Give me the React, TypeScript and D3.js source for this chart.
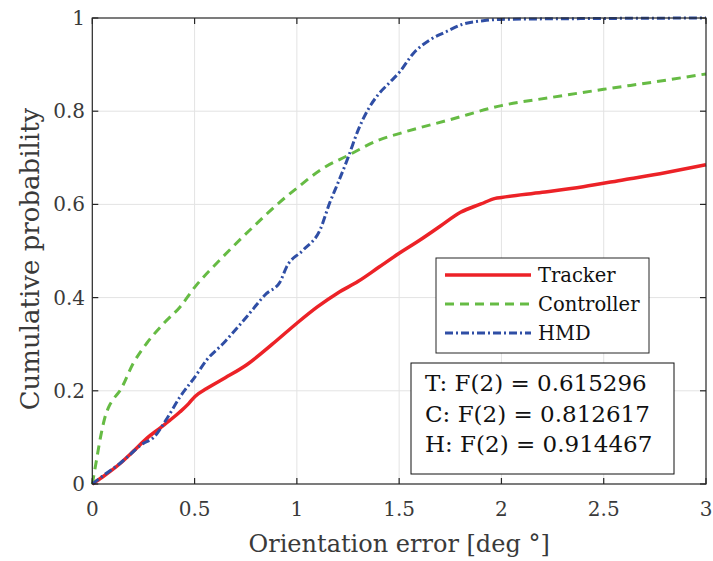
import React, { useRef, useEffect } from 'react';
import * as d3 from 'd3';

// CDF samples: [error deg, probability]
const trackerData: [number, number][] = [
  [0, 0], [0.05, 0.015], [0.136, 0.044], [0.2, 0.07], [0.266, 0.098], [0.331, 0.12],
  [0.38, 0.137], [0.429, 0.155], [0.47, 0.172], [0.502, 0.188], [0.559, 0.205],
  [0.65, 0.228], [0.755, 0.256], [0.88, 0.3], [1.0, 0.345], [1.1, 0.38],
  [1.2, 0.41], [1.3, 0.435], [1.4, 0.465], [1.5, 0.495], [1.6, 0.523],
  [1.7, 0.553], [1.8, 0.583], [1.9, 0.601], [1.97, 0.613], [2.0, 0.615],
  [2.2, 0.626], [2.4, 0.638], [2.6, 0.653], [2.8, 0.668], [3.0, 0.685],
];

const controllerData: [number, number][] = [
  [0, 0], [0.02, 0.05], [0.04, 0.1], [0.06, 0.14], [0.08, 0.165], [0.103, 0.182],
  [0.135, 0.2], [0.2, 0.259], [0.266, 0.302], [0.35, 0.345], [0.429, 0.38],
  [0.502, 0.423], [0.624, 0.481], [0.787, 0.552], [0.917, 0.605], [1.0, 0.635],
  [1.129, 0.678], [1.25, 0.705], [1.4, 0.738], [1.5, 0.752], [1.75, 0.782],
  [2.0, 0.812], [2.25, 0.83], [2.5, 0.847], [2.75, 0.863], [3.0, 0.88],
];

const hmdData: [number, number][] = [
  [0, 0], [0.05, 0.017], [0.135, 0.044], [0.249, 0.087], [0.3, 0.1], [0.364, 0.14],
  [0.429, 0.187], [0.502, 0.23], [0.559, 0.266], [0.641, 0.302], [0.755, 0.359],
  [0.852, 0.409], [0.917, 0.433], [0.95, 0.466], [1.031, 0.502], [1.113, 0.545],
  [1.162, 0.605], [1.2, 0.645], [1.25, 0.7], [1.3, 0.76], [1.35, 0.805],
  [1.4, 0.837], [1.45, 0.86], [1.504, 0.885], [1.569, 0.924], [1.65, 0.953],
  [1.732, 0.971], [1.813, 0.987], [1.91, 0.994], [1.99, 0.997], [2.5, 0.999], [3.0, 1.0],
];

const xTicks = [0, 0.5, 1, 1.5, 2, 2.5, 3];
const yTicks = [0, 0.2, 0.4, 0.6, 0.8, 1];
const statLines = ['T: F(2) = 0.615296', 'C: F(2) = 0.812617', 'H: F(2) = 0.914467'];

const series = [
  { name: 'Tracker', data: trackerData, color: '#ec2227', width: 3.5, dash: null },
  { name: 'Controller', data: controllerData, color: '#66bb44', width: 3, dash: '9,6' },
  { name: 'HMD', data: hmdData, color: '#2f4ea5', width: 3, dash: '8,3,2,3' },
];

const FONT = '"DejaVu Serif", serif';

export default function App() {
  const svgRef = useRef<SVGSVGElement>(null);

  useEffect(() => {
    const svg = d3.select(svgRef.current);
    svg.selectAll('*').remove();

    const left = 92.3, right = 706, top = 18, bottom = 484;
    const x = d3.scaleLinear().domain([0, 3]).range([left, right]);
    const y = d3.scaleLinear().domain([0, 1]).range([bottom, top]);

    svg.append('rect').attr('width', 713).attr('height', 561).attr('fill', '#fff');

    // grid
    const grid = svg.append('g').attr('stroke', '#e3e3e3').attr('stroke-width', 1);
    xTicks.slice(1, -1).forEach(t => {
      grid.append('line').attr('x1', x(t)).attr('x2', x(t)).attr('y1', top).attr('y2', bottom);
    });
    yTicks.slice(1, -1).forEach(t => {
      grid.append('line').attr('x1', left).attr('x2', right).attr('y1', y(t)).attr('y2', y(t));
    });

    // curves
    const line = d3.line<[number, number]>()
      .x(d => x(d[0]))
      .y(d => y(d[1]))
      .curve(d3.curveMonotoneX);

    series.forEach(s => {
      svg.append('path')
        .datum(s.data)
        .attr('d', line)
        .attr('fill', 'none')
        .attr('stroke', s.color)
        .attr('stroke-width', s.width)
        .attr('stroke-dasharray', s.dash)
        .attr('stroke-linejoin', 'round');
    });

    // axes box + inward ticks
    const ax = svg.append('g').attr('stroke', '#262626').attr('stroke-width', 1.2);
    ax.append('rect').attr('x', left).attr('y', top).attr('width', right - left).attr('height', bottom - top).attr('fill', 'none');
    xTicks.forEach(t => {
      ax.append('line').attr('x1', x(t)).attr('x2', x(t)).attr('y1', bottom).attr('y2', bottom - 6);
      ax.append('line').attr('x1', x(t)).attr('x2', x(t)).attr('y1', top).attr('y2', top + 6);
    });
    yTicks.forEach(t => {
      ax.append('line').attr('x1', left).attr('x2', left + 6).attr('y1', y(t)).attr('y2', y(t));
      ax.append('line').attr('x1', right).attr('x2', right - 6).attr('y1', y(t)).attr('y2', y(t));
    });

    const txt = svg.append('g').attr('font-family', FONT).attr('fill', '#3a3a3a');
    xTicks.forEach(t => {
      txt.append('text').attr('x', x(t)).attr('y', 516).attr('text-anchor', 'middle')
        .attr('font-size', 20).text(String(t));
    });
    yTicks.forEach(t => {
      txt.append('text').attr('x', 85).attr('y', y(t) + 7).attr('text-anchor', 'end')
        .attr('font-size', 20).text(String(t));
    });
    txt.append('text').attr('x', (left + right) / 2).attr('y', 552).attr('text-anchor', 'middle')
      .attr('font-size', 24).text('Orientation error [deg °]');
    txt.append('text').attr('transform', `translate(39,259) rotate(-90)`)
      .attr('text-anchor', 'middle').attr('font-size', 26).text('Cumulative probability');

    // legend
    const lg = svg.append('g');
    lg.append('rect').attr('x', 436).attr('y', 258).attr('width', 213).attr('height', 95)
      .attr('fill', '#fff').attr('stroke', '#262626').attr('stroke-width', 1);
    series.forEach((s, i) => {
      const ly = 275 + i * 29;
      lg.append('line').attr('x1', 445).attr('x2', 531).attr('y1', ly).attr('y2', ly)
        .attr('stroke', s.color).attr('stroke-width', s.width).attr('stroke-dasharray', s.dash);
      lg.append('text').attr('x', 538).attr('y', ly + 7).attr('font-family', FONT)
        .attr('font-size', 19.5).attr('fill', '#111').text(s.name);
    });

    // stats box
    const sb = svg.append('g');
    sb.append('rect').attr('x', 411).attr('y', 363).attr('width', 263).attr('height', 111)
      .attr('fill', '#fff').attr('stroke', '#111').attr('stroke-width', 1);
    statLines.forEach((l, i) => {
      sb.append('text').attr('x', 425).attr('y', 391 + i * 30.5).attr('font-family', FONT)
        .attr('font-size', 23).attr('fill', '#111').text(l);
    });
  }, []);

  return <svg ref={svgRef} width={713} height={561} style={{ position: 'absolute', left: 0, top: 0 }} />;
}
